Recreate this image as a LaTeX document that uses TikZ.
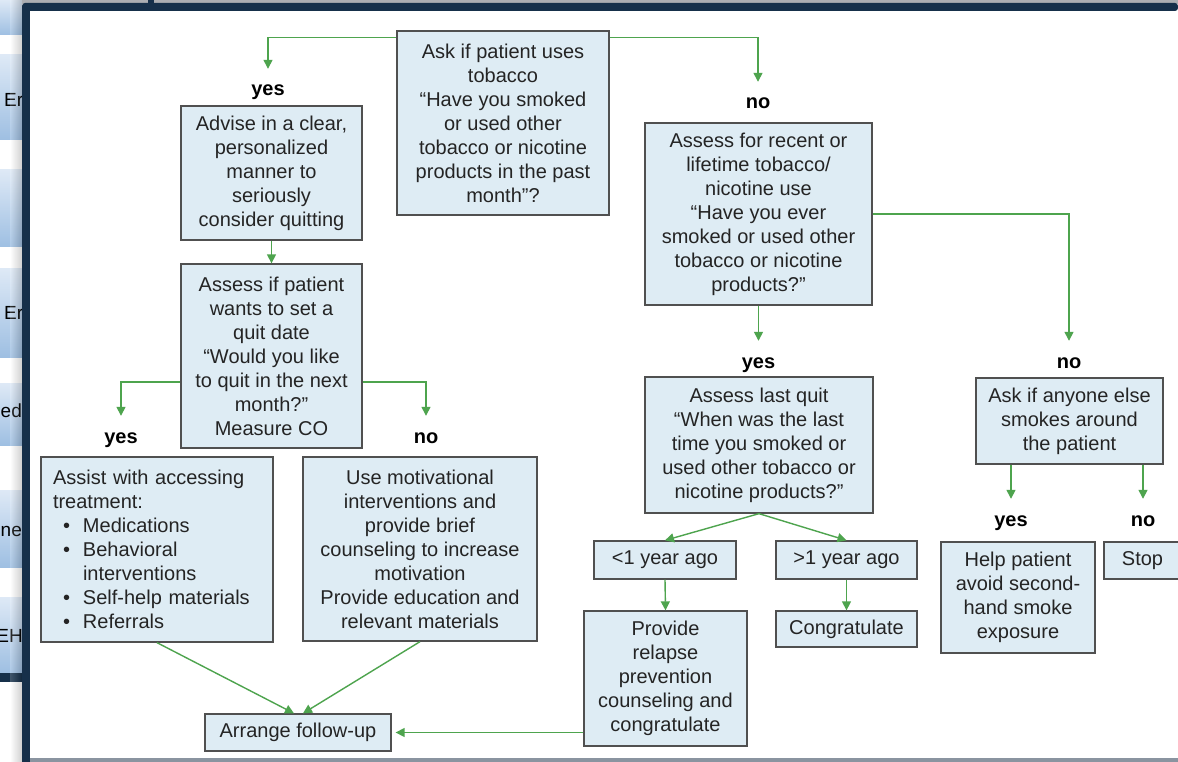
\documentclass[tikz,border=0pt]{standalone}
\usepackage{fontspec}
\setmainfont{Liberation Sans}
\usetikzlibrary{arrows.meta,calc}
\definecolor{boxfill}{RGB}{222,236,244}
\definecolor{boxline}{RGB}{80,80,80}
\definecolor{flowgreen}{RGB}{78,164,78}
\definecolor{navyframe}{RGB}{22,48,74}
\definecolor{txt}{RGB}{36,36,36}
\definecolor{btntop}{RGB}{222,233,246}
\definecolor{btnbot}{RGB}{158,191,226}
\definecolor{topgray}{RGB}{172,174,178}
\definecolor{basegray}{RGB}{138,148,160}

\begin{document}
\begin{tikzpicture}[x=1pt,y=-1pt,
  every node/.style={font=\fontsize{20}{24}\selectfont, text=txt},
  stepbox/.style={draw=boxline, line width=1.3pt, fill=boxfill, align=center, inner sep=0pt},
  lbl/.style={font=\bfseries\fontsize{20}{24}\selectfont, text=black, inner sep=0pt,
              text height=27pt, text depth=5pt, anchor=base},
  flow/.style={draw=flowgreen, line width=1.4pt, -{Triangle[length=9pt,width=9pt]}},
  btn/.style={top color=btntop, bottom color=btnbot},
  btntext/.style={font=\fontsize{19}{24}\selectfont, text=black, inner sep=0pt}
]
\useasboundingbox (0,0) rectangle (1178,762);
\fill[white] (0,0) rectangle (1178,762);

% window behind: strip of buttons on the left
\begin{scope}
  \clip (0,0) rectangle (22,762);
  \foreach \ya/\yb in {0/35, 55/140, 170/247, 268/357, 383/445, 490/567, 597/673}
    \fill[btn] (0,\ya) rectangle (22,\yb);
  \node[btntext, anchor=west] (bEa) at (4,100) {Er};
  \node[btntext, anchor=west] (bEb) at (4,313) {Er};
  \node[btntext, anchor=west] (bed) at (0.5,411) {ed};
  \node[btntext, anchor=west] (bne) at (0.5,531) {ne};
  \node[btntext, anchor=east] (bEH) at (23,636) {EH};
  \fill[navyframe] (0,673) rectangle (22,682);
  \shade[left color=white, right color=black, opacity=0.18] (10,0) rectangle (22,762);
\end{scope}

% window frame
\fill[topgray] (22,0) rectangle (1178,4);
\fill[navyframe] (148,0) rectangle (154,4);
\fill[navyframe, rounded corners=3pt] (22,3) rectangle (1178,11);
\fill[navyframe] (22,8) rectangle (30,762);
\fill[basegray] (30,758) rectangle (1178,762);

% boxes
\node[stepbox, minimum width=212pt, minimum height=184pt] (ask) at (503,123)
  {Ask if patient uses\\ tobacco\\ “Have you smoked\\ or used other\\ tobacco or nicotine\\ products in the past\\ month”?};
\node[stepbox, minimum width=181pt, minimum height=134pt] (advise) at (271.5,173)
  {Advise in a clear,\\ personalized\\ manner to\\ seriously\\ consider quitting};
\node[stepbox, minimum width=181pt, minimum height=184pt] (quit) at (271.5,356)
  {Assess if patient\\ wants to set a\\ quit date\\ “Would you like\\ to quit in the next\\ month?”\\ Measure CO};
\node[stepbox, minimum width=232pt, minimum height=185pt, text width=208pt, align=left] (assist) at (157,549.5)
  {Assist with accessing\\ treatment:\\
   \hspace*{10pt}\makebox[20pt][l]{•}Medications\\
   \hspace*{10pt}\makebox[20pt][l]{•}Behavioral\\
   \hspace*{30pt}interventions\\
   \hspace*{10pt}\makebox[20pt][l]{•}Self-help materials\\
   \hspace*{10pt}\makebox[20pt][l]{•}Referrals};
\node[stepbox, minimum width=234pt, minimum height=184pt] (motiv) at (420,549)
  {Use motivational\\ interventions and\\ provide brief\\ counseling to increase\\ motivation\\ Provide education and\\ relevant materials};
\node[stepbox, minimum width=186pt, minimum height=37pt] (arrange) at (298,732.5)
  {Arrange follow-up};
\node[stepbox, minimum width=227pt, minimum height=182pt] (recent) at (758.5,214)
  {Assess for recent or\\ lifetime tobacco/\\ nicotine use\\ “Have you ever\\ smoked or used other\\ tobacco or nicotine\\ products?”};
\node[stepbox, minimum width=228pt, minimum height=136pt] (lastquit) at (759,445)
  {Assess last quit\\ “When was the last\\ time you smoked or\\ used other tobacco or\\ nicotine products?”};
\node[stepbox, minimum width=187pt, minimum height=86pt] (anyone) at (1069.5,421)
  {Ask if anyone else\\ smokes around\\ the patient};
\node[stepbox, minimum width=142pt, minimum height=38pt] (less) at (665,560)
  {<1 year ago};
\node[stepbox, minimum width=141pt, minimum height=38pt] (more) at (846.5,560)
  {>1 year ago};
\node[stepbox, minimum width=163pt, minimum height=135pt] (provide) at (665.5,678.5)
  {Provide\\ relapse\\ prevention\\ counseling and\\ congratulate};
\node[stepbox, minimum width=141pt, minimum height=36pt] (congrat) at (846.5,629)
  {Congratulate};
\node[stepbox, minimum width=154pt, minimum height=111pt] (help) at (1018,597.5)
  {Help patient\\ avoid second-\\ hand smoke\\ exposure};
\node[stepbox, minimum width=77pt, minimum height=37pt] (stop) at (1142.5,560.5)
  {Stop};

% branch labels
\node[lbl] (yes1) at (268,96) {yes};
\node[lbl] (no1) at (758,109) {no};
\node[lbl] (yes2) at (121,443) {yes};
\node[lbl] (no2) at (426,443) {no};
\node[lbl] (yes3) at (758.5,368) {yes};
\node[lbl] (no3) at (1069,368) {no};
\node[lbl] (yes4) at (1011,526) {yes};
\node[lbl] (no4) at (1143,526) {no};

% connectors
\draw[flow] ([yshift=-7pt]ask.north west) -| (yes1.north);
\draw[flow] ([yshift=-7pt]ask.north east) -| (no1.north);
\draw[flow] (advise.south) -- (quit.north);
\draw[flow] ([yshift=-26pt]quit.west) -| (yes2.north);
\draw[flow] ([yshift=-26pt]quit.east) -| (no2.north);
\draw[flow] (assist.south) -- ([xshift=-4pt]arrange.north);
\draw[flow] (motiv.south) -- ([xshift=5pt]arrange.north);
\draw[flow] (recent.south) -- (yes3.north);
\draw[flow] (recent.east) -| (no3.north);
\draw[flow] (lastquit.south) -- (less.north);
\draw[flow] (lastquit.south) -- (more.north);
\draw[flow] (less.south) -- (provide.north);
\draw[flow] (more.south) -- (congrat.north);
\draw[flow, shorten >=4pt] (provide.west |- arrange.east) -- (arrange.east);
\draw[flow] (anyone.south -| yes4.north) -- (yes4.north);
\draw[flow] (anyone.south -| no4.north) -- (no4.north);
\end{tikzpicture}
\end{document}
